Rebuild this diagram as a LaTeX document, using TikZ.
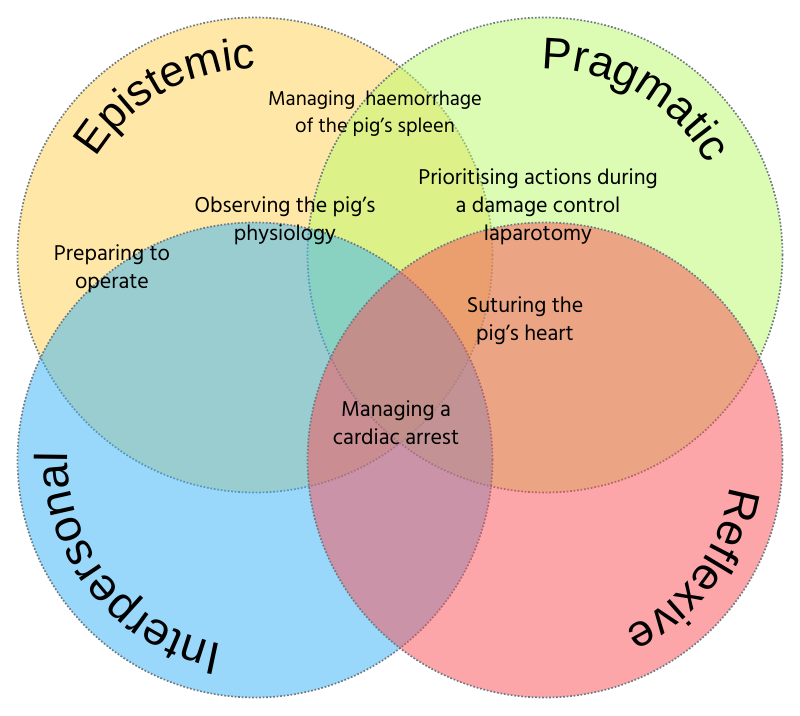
\documentclass[tikz,border=0pt]{standalone}
\usepackage{fontspec}
\setmainfont{Liberation Sans}
\newfontfamily\lblfamily{Hind Madurai}
\newfontfamily\ttlfamily{Liberation Sans}
\usetikzlibrary{decorations.text}
\definecolor{cEp}{HTML}{FFD351}
\definecolor{cPr}{HTML}{BBFB6B}
\definecolor{cIn}{HTML}{37B3F9}
\definecolor{cRe}{HTML}{FB4F55}
\definecolor{rim}{HTML}{6E7B85}
\newcommand\titlefnt[1]{\ttlfamily\fontsize{#1}{#1}\selectfont}
\begin{document}
\begin{tikzpicture}[x=1pt,y=1pt,
  venn/.style={circle, minimum size=475pt, inner sep=0pt, fill opacity=0.5,
    draw=rim, draw opacity=1, line width=1.7pt, dash pattern=on 1.7pt off 1.8pt},
  lbl/.style={font=\lblfamily\fontsize{22}{28}\selectfont, align=center, text=black, inner sep=0pt},
  lblsmall/.style={font=\lblfamily\fontsize{20.5}{27}\selectfont, align=center, text=black, inner sep=0pt}
]
\useasboundingbox (0,0) rectangle (800,715);
\fill[white] (0,0) rectangle (800,715);
\node[venn, fill=cEp] (ep) at (255,460) {};
\node[venn, fill=cPr] (pr) at (545,460) {};
\node[venn, fill=cIn] (ip) at (255,255) {};
\node[venn, fill=cRe] (rf) at (545,255) {};

\path[decorate, decoration={text along path, text align=left, text={|\titlefnt{44}|Epistemic}}]
  ([shift={(148.5:186)}]ep.center) arc[start angle=148.5, end angle=50, radius=186];
\path[decorate, decoration={text along path, text align=left, text={|\titlefnt{44.5}|Pragmatic}}]
  ([shift={(91:186)}]pr.center) arc[start angle=91, end angle=0, radius=186];
\path[decorate, decoration={text along path, text align=left, text={|\titlefnt{46}|Interpersonal}}]
  ([shift={(260:187)}]ip.center) arc[start angle=260, end angle=150, radius=187];
\path[decorate, decoration={text along path, text align=left, text={|\titlefnt{45}|Reflexive}}]
  ([shift={(-8:187)}]rf.center) arc[start angle=-8, end angle=-90, radius=187];

\node[lblsmall] (spleen) at (375,601.5) {Managing\ \ haemorrhage\\of the pig’s spleen};
\node[lbl] (physio) at (285,494) {Observing the pig’s\\physiology};
\node[lbl] (prep) at (112,446) {Preparing to\\operate};
\node[lbl] (prior) at (538,508) {Prioritising actions during\\a damage control\\laparotomy};
\node[lbl] (heart) at (525,394) {Suturing the\\pig’s heart};
\node[lbl] (arrest) at (396,292.5) {Managing a\\cardiac arrest};
\end{tikzpicture}
\end{document}
